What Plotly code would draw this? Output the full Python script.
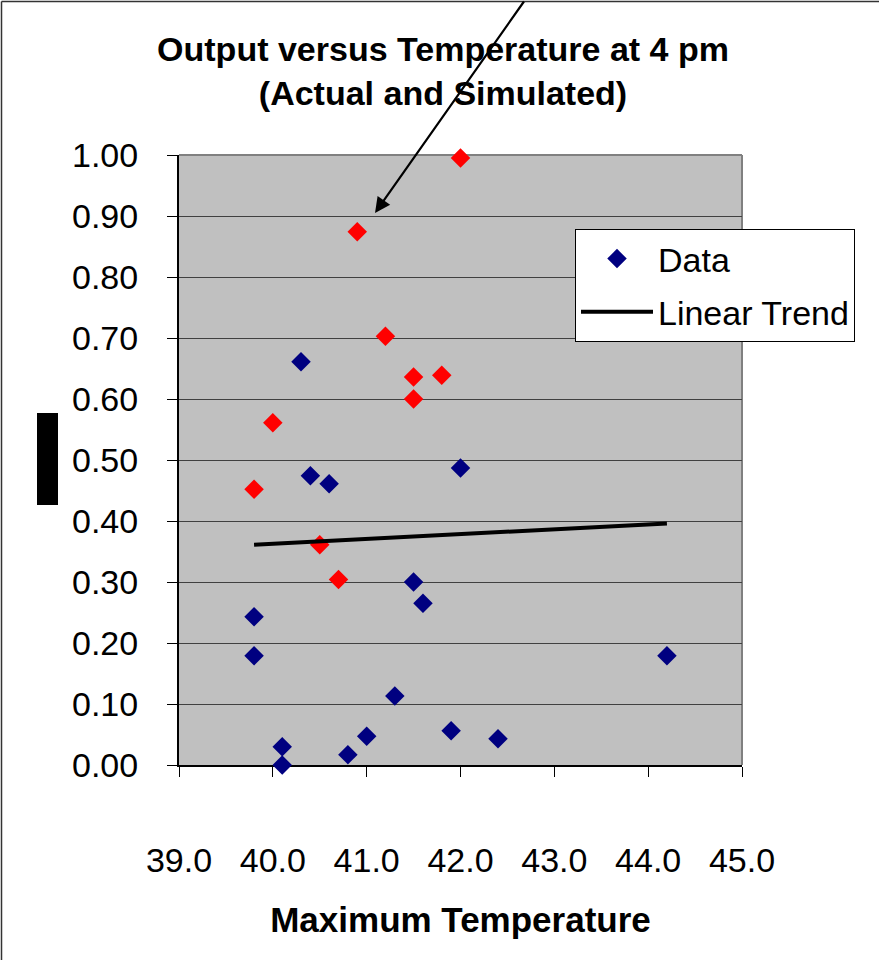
import plotly.graph_objects as go

# Actual data (blue)
actual_temp = [40.3, 40.4, 40.6, 42.0, 39.8, 39.8, 41.5, 41.6, 44.2, 41.3, 40.1, 40.1, 40.8, 41.0, 41.9, 42.4]
actual_output = [0.661, 0.474, 0.461, 0.487, 0.243, 0.179, 0.300, 0.265, 0.179, 0.113, 0.030, 0.000, 0.017, 0.047, 0.056, 0.043]

# Simulated data (red)
sim_temp = [42.0, 40.9, 41.2, 41.5, 41.8, 41.5, 40.0, 39.8, 40.5, 40.7]
sim_output = [0.995, 0.874, 0.703, 0.636, 0.639, 0.600, 0.561, 0.452, 0.361, 0.304]

# Linear trend endpoints
trend_temp = [39.8, 44.2]
trend_output = [0.361, 0.396]

x_ticks = [39.0, 40.0, 41.0, 42.0, 43.0, 44.0, 45.0]
y_ticks = [0.0, 0.1, 0.2, 0.3, 0.4, 0.5, 0.6, 0.7, 0.8, 0.9, 1.0]

FONT = "Arial, Liberation Sans, sans-serif"

fig = go.Figure()

fig.add_trace(go.Scatter(
    x=actual_temp, y=actual_output, mode="markers", name="Data",
    marker=dict(symbol="diamond", size=15, color="#000080", line=dict(width=0)),
    legendgroup="a", cliponaxis=False,
))
fig.add_trace(go.Scatter(
    x=sim_temp, y=sim_output, mode="markers", name="Simulated",
    marker=dict(symbol="diamond", size=15, color="#FF0000", line=dict(width=0)),
    showlegend=False, cliponaxis=False,
))
fig.add_trace(go.Scatter(
    x=trend_temp, y=trend_output, mode="lines", name="Linear Trend",
    line=dict(color="black", width=4),
    legendgroup="b",
))

fig.update_layout(
    width=879, height=960,
    margin=dict(l=179, r=137, t=155, b=195),
    paper_bgcolor="white",
    plot_bgcolor="#C0C0C0",
    font=dict(family=FONT, size=34, color="black"),
    title=dict(
        text="<b>Output versus Temperature at 4 pm<br>(Actual and Simulated)</b>",
        x=443 / 879, xanchor="center", xref="container",
        y=1 - 61 / 960, yanchor="top", yref="container",
        font=dict(family=FONT, size=34, color="black"),
    ),
    showlegend=True,
    legend=dict(
        x=(575 - 179) / 563, y=(765 - 229) / 610, xanchor="left", yanchor="top",
        bgcolor="white", bordercolor="black", borderwidth=1,
        font=dict(family=FONT, size=34, color="black"),
        tracegroupgap=6, traceorder="grouped", itemwidth=72,
    ),
    xaxis=dict(
        range=[39, 45], tickvals=x_ticks, tickformat=".1f",
        showgrid=False, zeroline=False,
        showline=True, linecolor="black", linewidth=2,
        ticks="outside", ticklen=10, tickcolor="black", tickwidth=1,
        ticklabelstandoff=54, layer="below traces",
        title=dict(text="<b>Maximum Temperature</b>", standoff=30,
                   font=dict(family=FONT, size=35, color="black")),
    ),
    yaxis=dict(
        range=[0, 1], tickvals=y_ticks, tickformat=".2f",
        showgrid=True, gridcolor="#404040", gridwidth=1.3, zeroline=False,
        showline=True, linecolor="black", linewidth=2,
        ticks="outside", ticklen=10, tickcolor="black", tickwidth=1,
        ticklabelstandoff=22, layer="below traces",
    ),
)

# plot-area top and right border (gray)
fig.add_shape(type="line", xref="paper", yref="paper", x0=0, x1=1, y0=1, y1=1,
              line=dict(color="#808080", width=2), layer="below")
fig.add_shape(type="line", xref="paper", yref="paper", x0=1, x1=1, y0=0, y1=1,
              line=dict(color="#808080", width=2), layer="below")

# outer chart border (top and left visible)
fig.add_shape(type="line", xref="paper", yref="paper",
              x0=(1.5 - 179) / 563, x1=(879 - 179) / 563, y0=(765 - 1.5) / 610, y1=(765 - 1.5) / 610,
              line=dict(color="#333333", width=1.5))
fig.add_shape(type="line", xref="paper", yref="paper",
              x0=(1.5 - 179) / 563, x1=(1.5 - 179) / 563, y0=(765 - 1.5) / 610, y1=(765 - 960) / 610,
              line=dict(color="#333333", width=1.5))

# redacted y-axis title block
fig.add_shape(type="rect", xref="paper", yref="paper",
              x0=(37 - 179) / 563, x1=(58 - 179) / 563,
              y0=(765 - 505) / 610, y1=(765 - 413) / 610,
              fillcolor="black", line=dict(width=0))

# arrow pointing at simulated point
fig.add_annotation(
    x=41.089, y=0.905, xref="x", yref="y", text="",
    showarrow=True, arrowhead=2, arrowsize=1.4, arrowwidth=2.2, arrowcolor="black",
    ax=150, ay=-224, standoff=0,
)

fig.write_html("out.html")
